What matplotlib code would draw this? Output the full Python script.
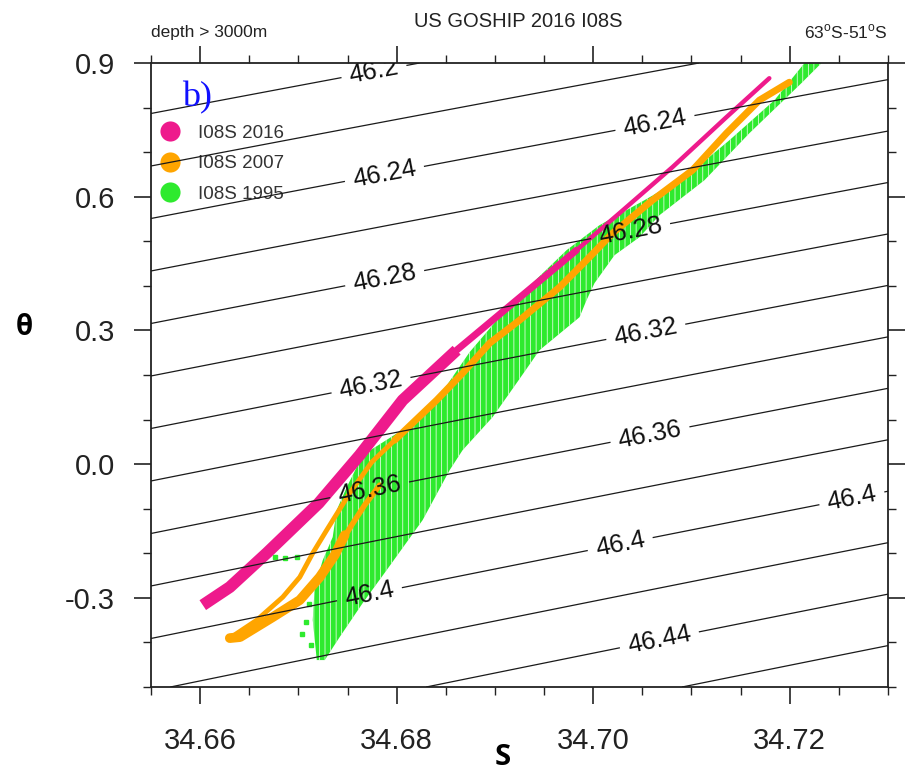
import numpy as np
import matplotlib
matplotlib.use("Agg")
import matplotlib.pyplot as plt
from matplotlib.lines import Line2D

# ------------------------------------------------------------------ data
series_names = ["I08S 2016", "I08S 2007", "I08S 1995"]
series_colors = ["#EE1A8C", "#FFA500", "#2EEA2E"]

# I08S 2016 (magenta): deep thick band, middle band and upper thin band (S, theta)
m_deep_S = [34.66027, 34.66302, 34.66678, 34.67207, 34.67624, 34.68061, 34.68610]
m_deep_T = [-0.3163, -0.2759, -0.1996, -0.0875, 0.0202, 0.1436, 0.2557]
m_mid_S = [34.68610, 34.69220, 34.69830]
m_mid_T = [0.2557, 0.3679, 0.4800]
m_up_S = [34.69830, 34.70267, 34.70806, 34.71355, 34.71792]
m_up_T = [0.4800, 0.5630, 0.6662, 0.7783, 0.8658]

# I08S 2007 (orange): thin upper-left branch, main upper band, lower branch, patch
o_thin_S = [34.66302, 34.66577, 34.66841, 34.67014, 34.67146, 34.67288, 34.67522, 34.67746, 34.67980]
o_thin_T = [-0.3903, -0.3499, -0.2983, -0.2535, -0.1996, -0.1480, -0.0650, 0.0045, 0.0538]
o_main_S = [34.67980, 34.68407, 34.68671, 34.68946, 34.69251, 34.69658, 34.69932, 34.70197,
            34.70603, 34.71010, 34.71356, 34.71691, 34.71996]
o_main_T = [0.0538, 0.1436, 0.2041, 0.2714, 0.3230, 0.3970, 0.4576, 0.5181,
            0.5922, 0.6594, 0.7424, 0.8165, 0.8568]
o_low_S = [34.66302, 34.66406, 34.66739, 34.67014, 34.67217, 34.67370, 34.67471]
o_low_T = [-0.3903, -0.3880, -0.3432, -0.3050, -0.2535, -0.2041, -0.1593]
o_patch_S = [34.67420, 34.67542, 34.67674, 34.67827]
o_patch_T = [-0.1817, -0.1368, -0.0920, -0.0471]

# I08S 1995 (green): outline of the dense cloud (left edge up, right edge down)
g_left_S = [34.67187, 34.67146, 34.67166, 34.67248, 34.67349, 34.67390, 34.67492, 34.67654,
            34.68102, 34.68407, 34.68742, 34.69149, 34.69729, 34.70064, 34.70522, 34.70959,
            34.71386, 34.71844, 34.72149]
g_left_T = [-0.4396, -0.3499, -0.2759, -0.2153, -0.1637, -0.1032, -0.0516, 0.0202,
            0.0830, 0.1436, 0.2512, 0.3566, 0.4800, 0.5361, 0.5922, 0.6482,
            0.7267, 0.8165, 0.8994]
g_right_S = [34.72321, 34.72118, 34.71589, 34.71132, 34.70674, 34.70471, 34.70217, 34.70013,
             34.69932, 34.69861, 34.69454, 34.69220, 34.68976, 34.68671, 34.68539, 34.68264,
             34.67898, 34.67654, 34.67420, 34.67268]
g_right_T = [0.8994, 0.8546, 0.7424, 0.6370, 0.5585, 0.5092, 0.4688, 0.4060,
             0.3679, 0.3297, 0.2557, 0.1817, 0.1054, 0.0314, -0.0135, -0.1256,
             -0.2378, -0.3118, -0.3880, -0.4396]
g_out_S = [34.66983, 34.66861, 34.66760, 34.67075, 34.67034, 34.67105, 34.67126]
g_out_T = [-0.2086, -0.2108, -0.2086, -0.3544, -0.3813, -0.3140, -0.4060]

# potential density (sigma-4) isopycnals: haline coefficient varying weakly with theta
sig_ref, S_ref, T_ref = 46.30, 34.655, 0.1978
dsig_dS0, dsig_dS_dT, dsig_dT = 0.736, -0.046, 0.1698
sig_plain = [46.18, 46.22, 46.26, 46.30, 46.34, 46.38, 46.42, 46.46]
sig_labeled = [46.20, 46.24, 46.28, 46.32, 46.36, 46.40, 46.44]

x_ticks = [34.66, 34.68, 34.70, 34.72]
x_ticklabels = ["34.66", "34.68", "34.70", "34.72"]
y_ticks = [-0.3, 0.0, 0.3, 0.6, 0.9]
y_ticklabels = ["-0.3", "0.0", "0.3", "0.6", "0.9"]

# contour label anchor points (S, theta)
label_pos = [(34.67776, 0.8725), (34.67878, 0.6482), (34.70623, 0.7716),
             (34.67878, 0.4172), (34.70369, 0.5361), (34.67725, 0.1929),
             (34.70522, 0.3118), (34.67725, -0.0583), (34.70573, 0.0718),
             (34.67725, -0.2938), (34.70267, -0.1705), (34.72620, -0.0628),
             (34.70674, -0.3948)]

# ------------------------------------------------------------------ figure
FONT = ["Liberation Sans", "DejaVu Sans"]
plt.rcParams["font.family"] = FONT
plt.rcParams["mathtext.fontset"] = "custom"
plt.rcParams["mathtext.rm"] = "Liberation Sans"
plt.rcParams["hatch.linewidth"] = 0.5

fig = plt.figure(figsize=(9.06, 7.70), dpi=100)
ax = fig.add_axes([151 / 906, 1 - 687 / 770, 737 / 906, 624 / 770])
ax.set_xlim(34.655, 34.73)
ax.set_ylim(-0.5, 0.9)

c16, c07, c95 = series_colors

# green 1995 cloud
ax.fill(g_left_S + g_right_S, g_left_T + g_right_T, facecolor=c95,
        edgecolor="white", hatch="|||", linewidth=0, zorder=1)
ax.plot(g_out_S, g_out_T, ls="", marker="s", ms=2.5, color=c95, zorder=1)

# orange 2007
ax.plot(o_low_S, o_low_T, color=c07, lw=7, solid_capstyle="round", zorder=2)
ax.plot(o_thin_S, o_thin_T, color=c07, lw=3.5, solid_capstyle="round", zorder=2)
ax.plot(o_main_S, o_main_T, color=c07, lw=5, solid_capstyle="round", zorder=2)
ax.plot(o_patch_S, o_patch_T, color=c07, lw=4, solid_capstyle="round", zorder=2)

# magenta 2016
ax.plot(m_deep_S, m_deep_T, color=c16, lw=8.5, solid_capstyle="butt",
        solid_joinstyle="round", zorder=3)
ax.plot(m_mid_S, m_mid_T, color=c16, lw=5, solid_capstyle="round", zorder=3)
ax.plot(m_up_S, m_up_T, color=c16, lw=3.2, solid_capstyle="round", zorder=3)

# isopycnals
Sg = np.linspace(34.655, 34.73, 200)
Tg = np.linspace(-0.5, 0.9, 200)
SS, TT = np.meshgrid(Sg, Tg)
SIG = (sig_ref + (dsig_dS0 + dsig_dS_dT * (TT - T_ref)) * (SS - S_ref)
       - dsig_dT * (TT - T_ref))
ax.contour(SS, TT, SIG, levels=sig_plain, colors="#1a1a1a", linewidths=0.9, zorder=5)
cs = ax.contour(SS, TT, SIG, levels=sig_labeled, colors="#1a1a1a", linewidths=0.9, zorder=5)
ax.clabel(cs, manual=label_pos, inline=True, inline_spacing=8,
          fmt=lambda v: f"{round(v, 2):g}", fontsize=18.5, colors="#111111")

# axes styling
ax.set_xticks(x_ticks)
ax.set_xticklabels(x_ticklabels)
ax.set_yticks(y_ticks)
ax.set_yticklabels(y_ticklabels)
ax.set_xticks(np.arange(34.655, 34.7301, 0.005), minor=True)
ax.set_yticks(np.arange(-0.5, 0.901, 0.1), minor=True)
ax.tick_params(which="both", direction="out", top=True, right=True,
               labeltop=False, labelright=False, colors="#222222")
ax.tick_params(which="major", length=12, width=1.2, labelsize=21)
ax.tick_params(which="minor", length=6, width=1.0)
ax.tick_params(axis="x", which="major", pad=17)
ax.tick_params(axis="y", which="major", pad=14)
for sp in ax.spines.values():
    sp.set_linewidth(1.3)
    sp.set_color("#222222")

ax.set_ylabel("θ", rotation=0, fontsize=20, fontweight="bold",
              family=["Open Sans", "DejaVu Sans"], va="center", ha="center")
ax.yaxis.set_label_coords(-0.1723, 0.5769)
ax.set_xlabel("S", fontsize=21, fontweight="bold",
              family=["Open Sans", "DejaVu Sans"], va="center", ha="center")
ax.xaxis.set_label_coords(0.4776, -0.1122)

# legend
handles = [Line2D([], [], ls="", marker="o", ms=14.5, color=c, mec="none")
           for c in series_colors]
leg = ax.legend(handles, series_names, loc="upper left", bbox_to_anchor=(0.013, 0.9014),
                frameon=False, fontsize=13.5, handlelength=1.0, handletextpad=1.0,
                labelspacing=0.72, borderpad=0, borderaxespad=0)
for t in leg.get_texts():
    t.set_color("#333333")
leg.set_zorder(4)

ax.text(0.042, 0.93, "b)", transform=ax.transAxes, color="#1010FF", fontsize=26,
        family=["Liberation Serif", "DejaVu Serif"], ha="left", va="baseline", zorder=6)

# header texts
fig.text(518 / 906, 1 - 27 / 770, "US GOSHIP 2016 I08S", fontsize=14.5,
         ha="center", va="baseline", color="#222222")
fig.text(151 / 906, 1 - 37 / 770, "depth > 3000m", fontsize=12.5,
         ha="left", va="baseline", color="#222222")
fig.text(888 / 906, 1 - 38 / 770, r"63$^{\rm o}$S-51$^{\rm o}$S", fontsize=12.5,
         ha="right", va="baseline", color="#222222")

fig.savefig("out.png", dpi=100, facecolor="white")
